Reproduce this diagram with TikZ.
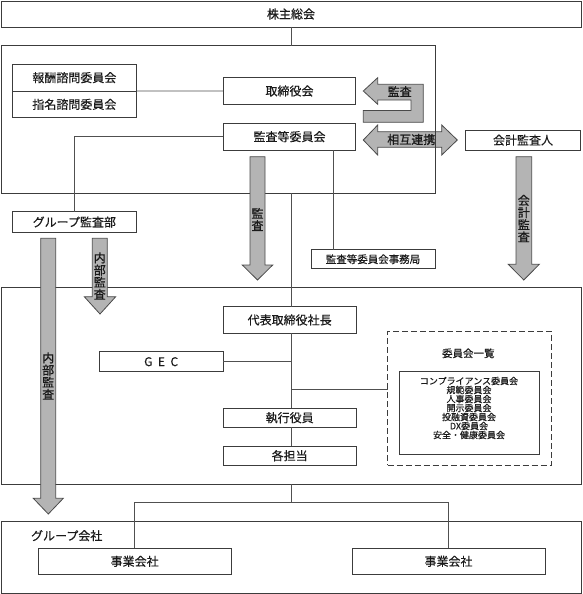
\documentclass[tikz,border=0pt]{standalone}
\usepackage{fontspec}
\setmainfont[FakeBold=0.35]{Noto Sans CJK JP}
\newfontfamily\arrowfont[FakeBold=0.9]{Noto Sans CJK JP}
\definecolor{bc}{HTML}{3C3C3C}
\definecolor{lc}{HTML}{505050}
\definecolor{gfill}{HTML}{B4B4B4}
\definecolor{gline}{HTML}{4A4A4A}
\definecolor{txt}{HTML}{1A1A1A}
\tikzset{
  box/.style={draw=bc, line width=0.8pt, fill=white, inner sep=0pt, outer sep=0pt, text=txt, font=\fontsize{12}{14}\selectfont},
  frame/.style={draw=bc, line width=0.8pt, inner sep=0pt, outer sep=0pt},
  conn/.style={draw=lc, line width=0.7pt},
  garrow/.style={fill=gfill, draw=gline, line width=0.8pt, line join=miter},
  vlab/.style={align=center, inner sep=0pt, text=txt, font=\arrowfont\fontsize{12}{12.2}\selectfont},
  hlab/.style={inner sep=0pt, text=txt, font=\fontsize{12}{14}\selectfont},
  alab/.style={inner sep=0pt, text=txt, font=\arrowfont\fontsize{12}{14}\selectfont},
}
\begin{document}
\begin{tikzpicture}[x=1pt,y=-1pt]
\useasboundingbox (0,0) rectangle (583,594);
\coordinate (mx) at (291.7,0);
% mutual cooperation arrow (under the board frame)
\path[garrow] (363.3,140) -- (377.7,125) -- (377.7,131.7) -- (441.7,131.7) -- (441.7,125) -- (457.3,140) -- (441.7,155) -- (441.7,147.3) -- (377.7,147.3) -- (377.7,155) -- cycle;
\node[alab] (mutual) at (411.3,139.5) {相互連携};
% frames
\node[frame, minimum width=434.5pt, minimum height=147.3pt] (board) at (218.25,119.35) {};
\node[frame, minimum width=580pt, minimum height=196.3pt] (execbox) at (291,385.85) {};
\node[frame, minimum width=580pt, minimum height=71.3pt] (groupbox) at (291,557.35) {};
\node[frame, dash pattern=on 6pt off 3pt, minimum width=163.5pt, minimum height=134pt] (listframe) at (469.25,398) {};
% boxes
\node[box, minimum width=580pt, minimum height=26pt] (sh) at (291,14) {株主総会};
\node[box, minimum width=124.7pt, minimum height=26.7pt] (rem) at (74.35,77.65) {報酬諮問委員会};
\node[box, minimum width=124.7pt, minimum height=26.7pt] (nom) at (74.35,104.35) {指名諮問委員会};
\node[box, minimum width=132.4pt, minimum height=26.6pt] (bod) at (289.5,91) {取締役会};
\node[box, minimum width=132.4pt, minimum height=26.7pt] (ac) at (289.5,136.65) {監査等委員会};
\node[box, minimum width=115.4pt, minimum height=19.7pt] (auditor) at (523,140.15) {会計監査人};
\node[box, minimum width=124.7pt, minimum height=20.6pt] (gad) at (74.35,222) {グループ監査部};
\node[box, minimum width=124pt, minimum height=19pt, font=\fontsize{10.5}{12}\selectfont] (acs) at (373,259.2) {監査等委員会事務局};
\node[box, minimum width=132.7pt, minimum height=26.6pt] (pres) at (289.65,320) {代表取締役社長};
\node[box, minimum width=124.3pt, minimum height=20pt] (gec) at (161.15,361.7) {G\hspace{5.5pt}E\hspace{5.5pt}C};
\node[box, minimum width=132.7pt, minimum height=19pt] (exec) at (289.65,417.8) {執行役員};
\node[box, minimum width=132.7pt, minimum height=19.3pt] (tanto) at (289.65,455.65) {各担当};
\node[hlab, font=\fontsize{10.5}{12}\selectfont] (listtitle) at (468.3,353.3) {委員会一覧};
\node[frame, minimum width=140.3pt, minimum height=82.3pt] (listbox) at (469.15,412.85) {};
\node[align=center, inner sep=0pt, text=txt, font=\fontsize{9}{9}\selectfont] (list) at (469,408) {コンプライアンス委員会\\規範委員会\\人事委員会\\開示委員会\\投融資委員会\\DX委員会\\安全・健康委員会};
\node[hlab] (gclabel) at (66.7,535.7) {グループ会社};
\node[box, minimum width=192.7pt, minimum height=26pt] (op1) at (134.65,561.3) {事業会社};
\node[box, minimum width=193pt, minimum height=26pt] (op2) at (448.5,561.3) {事業会社};
% connectors
\coordinate (jc) at (291.7,389.3);
\coordinate (split) at (291.7,502.7);
\coordinate (acx) at (333.3,0);
\draw[conn] (sh.south -| mx) -- (board.north -| mx);
\draw[conn] (board.south -| mx) -- (pres.north -| mx);
\draw[conn] (pres.south -| mx) -- (exec.north -| mx);
\draw[conn] (exec.south -| mx) -- (tanto.north -| mx);
\draw[conn] (gec.east) -- (gec.east -| mx);
\draw[conn] (jc) -- (jc -| listframe.west);
\draw[conn] (execbox.south -| mx) -- (split);
\draw[conn] (op1.north) -- (op1.north |- split) -- (op2.north |- split) -- (op2.north);
\draw[conn] (rem.south east) -- (bod.west);
\draw[conn] (ac.west) -- (ac.west -| gad.north) -- (gad.north);
\draw[conn] (ac.south -| acx) -- (acs.north -| acx);
% gray arrows
\path[garrow] (363.3,91) -- (377.7,77.7) -- (377.7,84.3) -- (423.3,84.3) -- (423.3,122.3) -- (363.3,122.3) -- (363.3,110.5) -- (411,110.5) -- (411,100) -- (377.7,100) -- (377.7,104.3) -- cycle;
\node[alab] (audit1) at (399.7,91.5) {監査};
\path[garrow] (250,156.7) -- (265,156.7) -- (265,265) -- (272.7,265) -- (257.5,280) -- (242.3,265) -- (250,265) -- cycle;
\node[vlab] (audit2) at (257.5,219.5) {監\\査};
\path[garrow] (516,156.7) -- (531.7,156.7) -- (531.7,264.3) -- (539.3,264.3) -- (523.8,280) -- (508.3,264.3) -- (516,264.3) -- cycle;
\node[vlab] (audit3) at (523.8,218.5) {会\\計\\監\\査};
\path[garrow] (92.3,238.3) -- (107.3,238.3) -- (107.3,296.7) -- (115.7,296.7) -- (100,314) -- (84.3,296.7) -- (92.3,296.7) -- cycle;
\node[vlab] (audit4) at (99.8,276) {内\\部\\監\\査};
\path[garrow] (40.7,238.3) -- (55.7,238.3) -- (55.7,498.3) -- (63.3,498.3) -- (48.3,514) -- (33.3,498.3) -- (40.7,498.3) -- cycle;
\node[vlab] (audit5) at (48.2,376) {内\\部\\監\\査};
\end{tikzpicture}
\end{document}
